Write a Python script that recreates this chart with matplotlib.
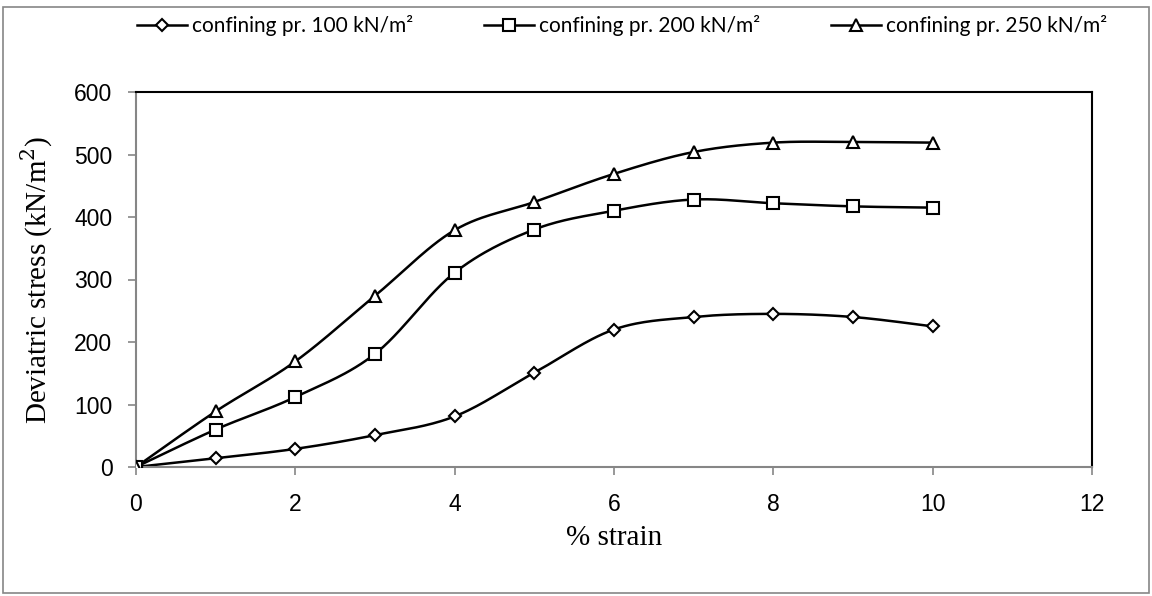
import numpy as np
import matplotlib
matplotlib.use("Agg")
import matplotlib.pyplot as plt
from matplotlib.patches import Rectangle

strain = [0, 1, 2, 3, 4, 5, 6, 7, 8, 9, 10]
stress_100 = [0, 14, 29, 51, 81, 151, 220, 240, 245, 240, 225]
stress_200 = [0, 60, 112, 181, 311, 380, 410, 428, 422, 417, 415]
stress_250 = [0, 89, 169, 274, 379, 424, 469, 504, 519, 520, 519]
labels = ["confining pr. 100 kN/m²", "confining pr. 200 kN/m²", "confining pr. 250 kN/m²"]
markers = ["D", "s", "^"]
msizes = [6.5, 8.5, 9]


def smooth(x, y, n=30):
    x = np.asarray(x, float)
    y = np.asarray(y, float)
    px = np.concatenate([[x[0]], x, [x[-1]]])
    py = np.concatenate([[y[0]], y, [y[-1]]])
    xs, ys = [], []
    t = np.linspace(0, 1, n)
    for i in range(1, len(px) - 2):
        p0 = np.array([px[i], py[i]])
        p3 = np.array([px[i + 1], py[i + 1]])
        c1 = p0 + (np.array([px[i + 1], py[i + 1]]) - np.array([px[i - 1], py[i - 1]])) / 6
        c2 = p3 - (np.array([px[i + 2], py[i + 2]]) - np.array([px[i], py[i]])) / 6
        b = ((1 - t) ** 3)[:, None] * p0 + (3 * (1 - t) ** 2 * t)[:, None] * c1 \
            + (3 * (1 - t) * t ** 2)[:, None] * c2 + (t ** 3)[:, None] * p3
        xs.extend(b[:, 0])
        ys.extend(b[:, 1])
    return xs, ys


fig = plt.figure(figsize=(11.52, 5.96), dpi=100)
ax = fig.add_axes([136 / 1152, 1 - 467 / 596, (1092 - 136) / 1152, (467 - 92) / 596])

handles = []
for ys, lab, m, ms in zip([stress_100, stress_200, stress_250], labels, markers, msizes):
    sx, sy = smooth(strain, ys)
    ax.plot(sx, sy, color="black", lw=1.8, zorder=2)
    ax.plot(strain, ys, ls="none", marker=m, ms=ms, mfc="white", mec="black", mew=1.5, zorder=3)
    h, = ax.plot([], [], color="black", lw=1.8, marker=m, ms=ms, mfc="white", mec="black", mew=1.5)
    handles.append(h)

ax.set_xlim(0, 12)
ax.set_ylim(0, 600)
ax.set_xticks(range(0, 13, 2))
ax.set_yticks(range(0, 601, 100))
for s in ["left", "bottom"]:
    ax.spines[s].set_color("#868686")
    ax.spines[s].set_linewidth(1.5)
for s in ["top", "right"]:
    ax.spines[s].set_color("black")
    ax.spines[s].set_linewidth(1.5)
ax.tick_params(axis="both", colors="#868686", length=6, width=1.2, direction="out",
               labelcolor="black", labelsize=16.5)
for lbl in ax.get_xticklabels() + ax.get_yticklabels():
    lbl.set_fontfamily("Liberation Sans")
ax.tick_params(axis="x", pad=13)
ax.tick_params(axis="y", pad=11)

ax.set_xlabel("% strain", fontfamily="Liberation Serif", fontsize=21, labelpad=6)
ax.set_ylabel("Deviatric stress (kN/m$^2$)", fontfamily="Liberation Serif", fontsize=21, labelpad=14)
ax.yaxis.label.set_math_fontfamily("dejavuserif")

fig.legend(handles, labels, loc="center", bbox_to_anchor=(0.54, 1 - 26 / 596), ncol=3, frameon=False,
           prop={"family": "Lato", "size": 15}, handlelength=2.4, handletextpad=0.25, columnspacing=3.4)

fig.patches.append(Rectangle((3 / 1152, 3 / 596), 1 - 6 / 1152, 1 - 10 / 596, transform=fig.transFigure,
                             fill=False, edgecolor="#868686", lw=1.2))

fig.savefig("out.png", dpi=100)
